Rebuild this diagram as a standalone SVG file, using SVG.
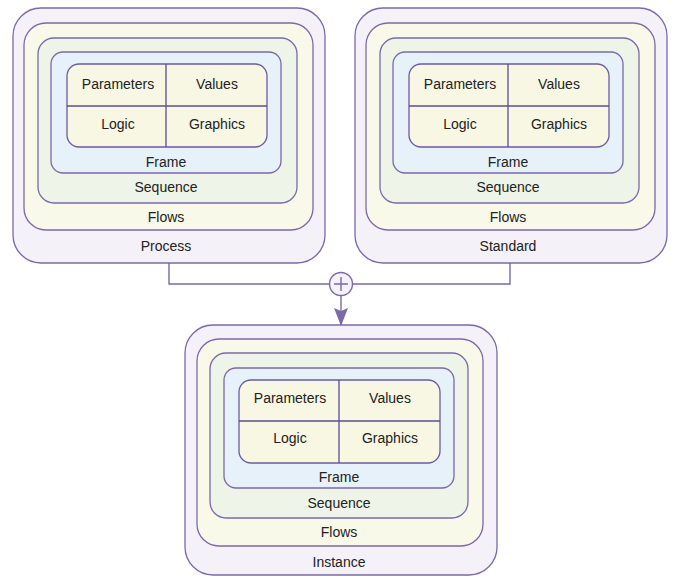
<svg xmlns="http://www.w3.org/2000/svg" width="674" height="576" viewBox="0 0 674 576">
  <style>
    text { font-family: "Liberation Sans", Arial, sans-serif; font-size: 14px; fill: #222; text-anchor: middle; dominant-baseline: central; }
    .outer { fill: #f4f1f8; stroke: #7a6aa8; stroke-width: 1.3; }
    .flows { fill: #f9f9ea; stroke: #7a6aa8; stroke-width: 1.3; }
    .seq { fill: #eef4e8; stroke: #7a6aa8; stroke-width: 1.3; }
    .frame { fill: #e6f1f9; stroke: #7a6aa8; stroke-width: 1.3; }
    .grid { fill: #f8f7e4; stroke: #6a5ca0; stroke-width: 1.3; }
    .div { stroke: #5a4e96; stroke-width: 1.3; fill: none; }
    .wire { stroke: #7a6aa8; stroke-width: 1.4; fill: none; }
  </style>
  <defs>
    <marker id="arrow" markerWidth="18" markerHeight="14" refX="17" refY="7" orient="auto" markerUnits="userSpaceOnUse">
      <path d="M0,0 L18,7 L0,14 L3,7 Z" fill="#7a6aa8"/>
    </marker>
  </defs>

  <!-- connectors: Process + Standard merge into Instance -->
  <g id="connectors">
    <path class="wire" d="M169,263 V284 H329"/>
    <path class="wire" d="M510,263 V284 H353"/>
    <circle cx="341" cy="284" r="11.5" fill="#f4f1f8" stroke="#7a6aa8" stroke-width="1.4"/>
    <path class="wire" d="M341,277 V291 M334,284 H348"/>
    <path class="wire" d="M341,296 V325" marker-end="url(#arrow)"/>
  </g>

  <!-- Process -->
  <g id="process" transform="translate(13,8)">
    <rect class="outer" x="0" y="0" width="312" height="255" rx="28"/>
    <rect class="flows" x="11" y="15" width="289" height="207" rx="22"/>
    <rect class="seq" x="25" y="30" width="259" height="165" rx="16"/>
    <rect class="frame" x="38" y="44" width="230" height="121" rx="12"/>
    <rect class="grid" x="54" y="56" width="200" height="83" rx="12"/>
    <path class="div" d="M153,56 V139 M54,98 H254"/>
    <text x="105" y="76">Parameters</text>
    <text x="204" y="76">Values</text>
    <text x="105" y="116">Logic</text>
    <text x="204" y="116">Graphics</text>
    <text x="153" y="154">Frame</text>
    <text x="153" y="179">Sequence</text>
    <text x="153" y="209">Flows</text>
    <text x="153" y="238">Process</text>
  </g>

  <!-- Standard -->
  <g id="standard" transform="translate(355,8)">
    <rect class="outer" x="0" y="0" width="312" height="255" rx="28"/>
    <rect class="flows" x="11" y="15" width="289" height="207" rx="22"/>
    <rect class="seq" x="25" y="30" width="259" height="165" rx="16"/>
    <rect class="frame" x="38" y="44" width="230" height="121" rx="12"/>
    <rect class="grid" x="54" y="56" width="200" height="83" rx="12"/>
    <path class="div" d="M153,56 V139 M54,98 H254"/>
    <text x="105" y="76">Parameters</text>
    <text x="204" y="76">Values</text>
    <text x="105" y="116">Logic</text>
    <text x="204" y="116">Graphics</text>
    <text x="153" y="154">Frame</text>
    <text x="153" y="179">Sequence</text>
    <text x="153" y="209">Flows</text>
    <text x="153" y="238">Standard</text>
  </g>

  <!-- Instance -->
  <g id="instance" transform="translate(185,325)">
    <rect class="outer" x="0" y="0" width="312" height="250" rx="28"/>
    <rect class="flows" x="12" y="14" width="286" height="207" rx="22"/>
    <rect class="seq" x="25" y="28" width="258" height="165" rx="16"/>
    <rect class="frame" x="39" y="43" width="230" height="120" rx="12"/>
    <rect class="grid" x="54" y="55" width="201" height="83" rx="12"/>
    <path class="div" d="M154,55 V138 M54,96 H255"/>
    <text x="105" y="73">Parameters</text>
    <text x="205" y="73">Values</text>
    <text x="105" y="113">Logic</text>
    <text x="205" y="113">Graphics</text>
    <text x="154" y="152">Frame</text>
    <text x="154" y="178">Sequence</text>
    <text x="154" y="207">Flows</text>
    <text x="154" y="237">Instance</text>
  </g>
</svg>
